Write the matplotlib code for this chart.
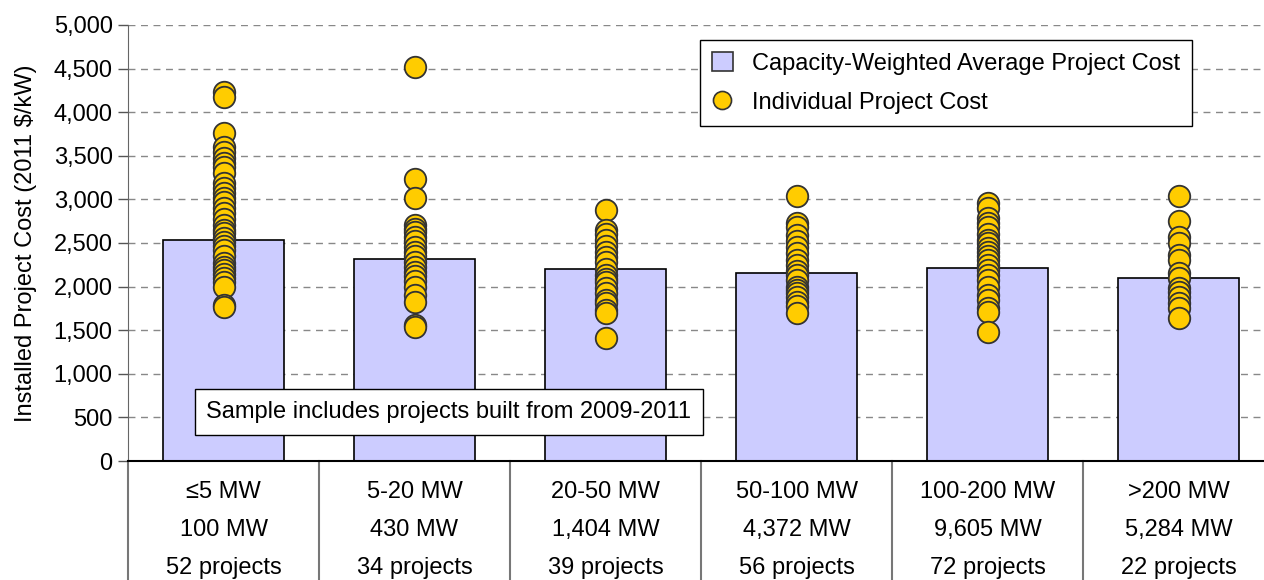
import matplotlib
matplotlib.use("Agg")
import matplotlib.pyplot as plt
from matplotlib.ticker import FuncFormatter, MultipleLocator
from matplotlib.patches import Patch
from matplotlib.lines import Line2D
import matplotlib.transforms as mtransforms

plt.rcParams['font.family'] = ['Liberation Sans', 'DejaVu Sans']

size_labels = ["≤5 MW", "5-20 MW", "20-50 MW", "50-100 MW", "100-200 MW", ">200 MW"]
capacity_labels = ["100 MW", "430 MW", "1,404 MW", "4,372 MW", "9,605 MW", "5,284 MW"]
project_labels = ["52 projects", "34 projects", "39 projects", "56 projects", "72 projects", "22 projects"]

avg_cost = [2534, 2316, 2202, 2152, 2210, 2095]

proj_le5 = [4235, 4178, 3758, 3605, 3547, 3471, 3420, 3375, 3300, 3185, 3127, 3070, 3020,
            2974, 2900, 2841, 2780, 2706, 2650, 2611, 2560, 2515, 2470, 2420, 2350, 2267,
            2230, 2190, 2150, 2095, 2050, 1999, 1790, 1770]
proj_5_20 = [4515, 3230, 3020, 2706, 2660, 2630, 2572, 2520, 2458, 2400, 2350, 2286, 2230,
             2171, 2120, 2060, 1999, 1904, 1827, 1560, 1540]
proj_20_50 = [2878, 2649, 2600, 2534, 2460, 2400, 2343, 2280, 2200, 2133, 2090, 2056, 1980,
              1923, 1850, 1808, 1732, 1700, 1407]
proj_50_100 = [3043, 2725, 2680, 2592, 2520, 2450, 2381, 2300, 2250, 2180, 2133, 2080, 1999,
               1960, 1923, 1880, 1827, 1780, 1694]
proj_100_200 = [2955, 2900, 2783, 2730, 2687, 2600, 2540, 2496, 2440, 2400, 2350, 2305, 2250,
                2190, 2130, 2076, 2000, 1904, 1850, 1760, 1712, 1483]
proj_gt200 = [3043, 2756, 2572, 2500, 2362, 2300, 2152, 2100, 1980, 1940, 1885, 1808, 1760, 1636]
projects = [proj_le5, proj_5_20, proj_20_50, proj_50_100, proj_100_200, proj_gt200]

W, H = 1264, 580
fig = plt.figure(figsize=(W / 100, H / 100), dpi=100)
ax = fig.add_axes([128 / W, 1 - 461 / H, (1274 - 128) / W, (461 - 25) / H])

FS = 17
bar_color = "#CCCCFF"
dot_color = "#FFCC00"

x = list(range(len(size_labels)))
ax.bar(x, avg_cost, width=0.63, color=bar_color, edgecolor="black", linewidth=1.2, zorder=2)
for i, vals in enumerate(projects):
    ax.scatter([i] * len(vals), vals, s=240, color=dot_color, edgecolor="#333333",
               linewidth=1.3, zorder=3)

ax.set_xlim(-0.5, len(size_labels) - 0.5)
ax.set_ylim(0, 5000)
ax.yaxis.set_major_locator(MultipleLocator(500))
ax.yaxis.set_major_formatter(FuncFormatter(lambda v, p: f"{int(v):,}"))
ax.tick_params(axis='y', labelsize=FS, length=7, width=1, color="#555555", pad=4)
ax.set_xticks([])
for yv in range(500, 5001, 500):
    ax.axhline(yv, color="#888888", linestyle=(0, (5, 4)), linewidth=1, zorder=1)

for s in ["top", "right"]:
    ax.spines[s].set_visible(False)
ax.spines["left"].set_color("#666666")
ax.spines["bottom"].set_color("black")
ax.spines["bottom"].set_linewidth(1.5)

ax.set_ylabel("Installed Project Cost (2011 $/kW)", fontsize=FS, labelpad=12)

trans = mtransforms.blended_transform_factory(ax.transData, ax.transAxes)
low = -(580 - 461) / (461 - 25)
for b in [k - 0.5 for k in range(len(size_labels))]:
    ax.plot([b, b], [0, low], color="#777777", linewidth=1.5, transform=trans, clip_on=False)

rows = [(-31 / 436, size_labels), (-69 / 436, capacity_labels), (-107 / 436, project_labels)]
for yy, labels in rows:
    for i, lab in enumerate(labels):
        ax.text(i, yy, lab, transform=trans, ha="center", va="center", fontsize=FS)

ax.text(1.18, 562, "Sample includes projects built from 2009-2011", ha="center", va="center",
        fontsize=FS, zorder=5,
        bbox=dict(boxstyle="square,pad=0.5", facecolor="white", edgecolor="black", linewidth=1))

handles = [Patch(facecolor=bar_color, edgecolor="#333333", linewidth=1.2),
           Line2D([], [], marker="o", linestyle="none", markersize=13,
                  markerfacecolor=dot_color, markeredgecolor="#333333", markeredgewidth=1.2)]
leg = fig.legend(handles, ["Capacity-Weighted Average Project Cost", "Individual Project Cost"],
                 loc="upper left", bbox_to_anchor=(700 / W, 1 - 40 / H), fontsize=FS,
                 frameon=True, fancybox=False, edgecolor="black", framealpha=1,
                 handlelength=0.9, handleheight=0.9, handletextpad=0.8, labelspacing=0.7,
                 borderpad=0.5, borderaxespad=0)
leg.get_frame().set_linewidth(1)

fig.savefig("out.png", dpi=100)
